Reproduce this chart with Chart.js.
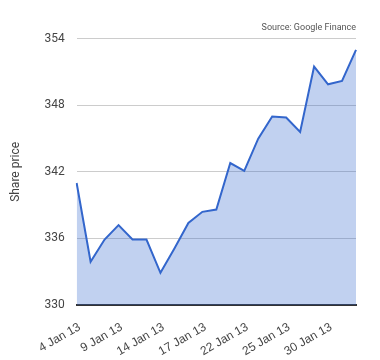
<!DOCTYPE html>
<html>
<head>
<meta charset="utf-8">
<script src="https://cdn.jsdelivr.net/npm/chart.js@4.4.0/dist/chart.umd.min.js"></script>
<style>
  html, body { margin: 0; padding: 0; background: #fff; }
  #wrap { width: 380px; height: 360px; }
</style>
</head>
<body>
<div id="wrap"><canvas id="chart"></canvas></div>
<script>
// Trading days, Jan 2013 (every 3rd one gets a label)
const dates = [
  '4 Jan 13', '7 Jan 13', '8 Jan 13', '9 Jan 13', '10 Jan 13', '11 Jan 13',
  '14 Jan 13', '15 Jan 13', '16 Jan 13', '17 Jan 13', '18 Jan 13',
  '21 Jan 13', '22 Jan 13', '23 Jan 13', '24 Jan 13', '25 Jan 13',
  '28 Jan 13', '29 Jan 13', '30 Jan 13', '31 Jan 13', '1 Feb 13'
];
const prices = [
  341.0, 333.9, 335.9, 337.2, 335.9, 335.9,
  332.9, 335.1, 337.4, 338.4, 338.6,
  342.8, 342.1, 345.0, 347.0, 346.9,
  345.6, 351.5, 349.9, 350.2, 353.0
];
const yTicks = [330, 336, 342, 348, 354];

const LINE_COLOR = '#3366cc';
const FONT = 'Roboto, Arial, sans-serif';

new Chart(document.getElementById('chart').getContext('2d'), {
  type: 'line',
  data: {
    labels: dates,
    datasets: [{
      label: 'Share price',
      data: prices,
      borderColor: LINE_COLOR,
      backgroundColor: 'rgba(51, 102, 204, 0.3)',
      borderWidth: 2,
      pointRadius: 0,
      tension: 0,
      fill: 'start',
    }],
  },
  options: {
    responsive: true,
    maintainAspectRatio: false,
    animation: false,
    layout: { padding: { left: 9, right: 24, top: 22, bottom: 0 } },
    plugins: {
      legend: { display: false },
      tooltip: { enabled: false },
      title: {
        display: true,
        text: 'Source: Google Finance',
        align: 'end',
        color: '#555',
        font: { family: FONT, size: 9, weight: 'normal' },
        padding: { top: 0, bottom: 6 },
      },
    },
    scales: {
      x: {
        offset: false,
        grid: { display: false },
        border: { display: true, color: '#333', width: 2 },
        afterFit: (scale) => { scale.height = 55; },
        ticks: {
          autoSkip: false,
          minRotation: 30,
          maxRotation: 30,
          padding: 7,
          labelOffset: 3,
          color: '#444',
          font: { family: 'Arial, sans-serif', size: 12 },
          callback: (value, index) => (index % 3 === 0 ? dates[index] : ''),
        },
      },
      y: {
        min: 330,
        max: 354,
        afterBuildTicks: (scale) => {
          scale.ticks = yTicks.map(v => ({ value: v }));
        },
        grid: { color: '#cccccc', drawTicks: false },
        border: { display: false },
        ticks: {
          padding: 12,
          color: '#444',
          font: { family: FONT, size: 12 },
        },
        title: {
          display: true,
          text: 'Share price',
          color: '#444',
          font: { family: FONT, size: 12 },
          padding: { top: 0, bottom: 9 },
        },
      },
    },
  },
});
</script>
</body>
</html>
